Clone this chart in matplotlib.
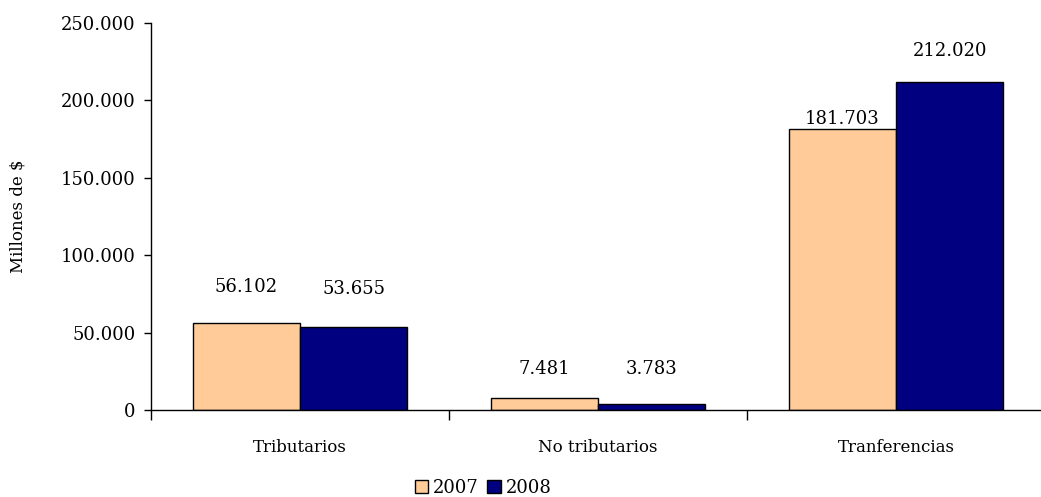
import matplotlib.pyplot as plt
import numpy as np

categorias = ["Tributarios", "No tributarios", "Tranferencias"]
anios = ["2007", "2008"]
valores_2007 = [56102, 7481, 181703]
valores_2008 = [53655, 3783, 212020]
etiquetas_2007 = ["56.102", "7.481", "181.703"]
etiquetas_2008 = ["53.655", "3.783", "212.020"]

# desplazamiento (px) del centro de cada etiqueta sobre su barra
desp_2007 = [36, 29, 10]
desp_2008 = [38, 35, 31]

plt.rcParams['font.family'] = ['DejaVu Serif']

fig = plt.figure(figsize=(10.41, 4.97), dpi=100)
ax = fig.add_axes([151 / 1041, 87 / 497, 894 / 1041, 387 / 497])

x = np.arange(len(categorias))
ancho = 0.36
b1 = ax.bar(x - ancho / 2, valores_2007, ancho, color='#FFCC99', edgecolor='black', linewidth=1, label=anios[0])
b2 = ax.bar(x + ancho / 2, valores_2008, ancho, color='#000080', edgecolor='black', linewidth=1, label=anios[1])

for barras, etiquetas, desp in [(b1, etiquetas_2007, desp_2007), (b2, etiquetas_2008, desp_2008)]:
    for rect, txt, d in zip(barras, etiquetas, desp):
        ax.annotate(txt, (rect.get_x() + rect.get_width() / 2, rect.get_height()),
                    xytext=(0, d * 0.72), textcoords='offset points',
                    ha='center', va='center', fontsize=13)

ax.set_xlim(-0.5, 2.5)
ax.set_ylim(0, 250000)
ax.set_yticks(np.arange(0, 250001, 50000))
ax.set_yticklabels(["0", "50.000", "100.000", "150.000", "200.000", "250.000"], fontsize=13)
ax.set_xticks([-0.5, 0.5, 1.5, 2.5])
ax.set_xticklabels([])
ax.set_xticks(x, minor=True)
ax.set_xticklabels(categorias, minor=True, fontsize=12)
ax.tick_params(axis='x', which='minor', length=0, pad=21)
ax.tick_params(axis='x', which='major', length=7, width=1)
ax.tick_params(axis='y', length=5, width=1, pad=6)

for s in ['top', 'right']:
    ax.spines[s].set_visible(False)
ax.spines['left'].set_linewidth(1)
ax.spines['bottom'].set_linewidth(1)

ax.set_ylabel("Millones de $", fontsize=12)
ax.yaxis.set_label_coords(-(151 - 18) / 894, 0.5)
ax.yaxis.label.set_va('center')

fig.legend(loc='center', bbox_to_anchor=(483 / 1041, 1 - 488 / 497), ncol=2, frameon=False,
           fontsize=13, handlelength=0.75, handleheight=0.75, handletextpad=0.25, columnspacing=0.5,
           borderpad=0)

fig.savefig("out.png", dpi=100)
